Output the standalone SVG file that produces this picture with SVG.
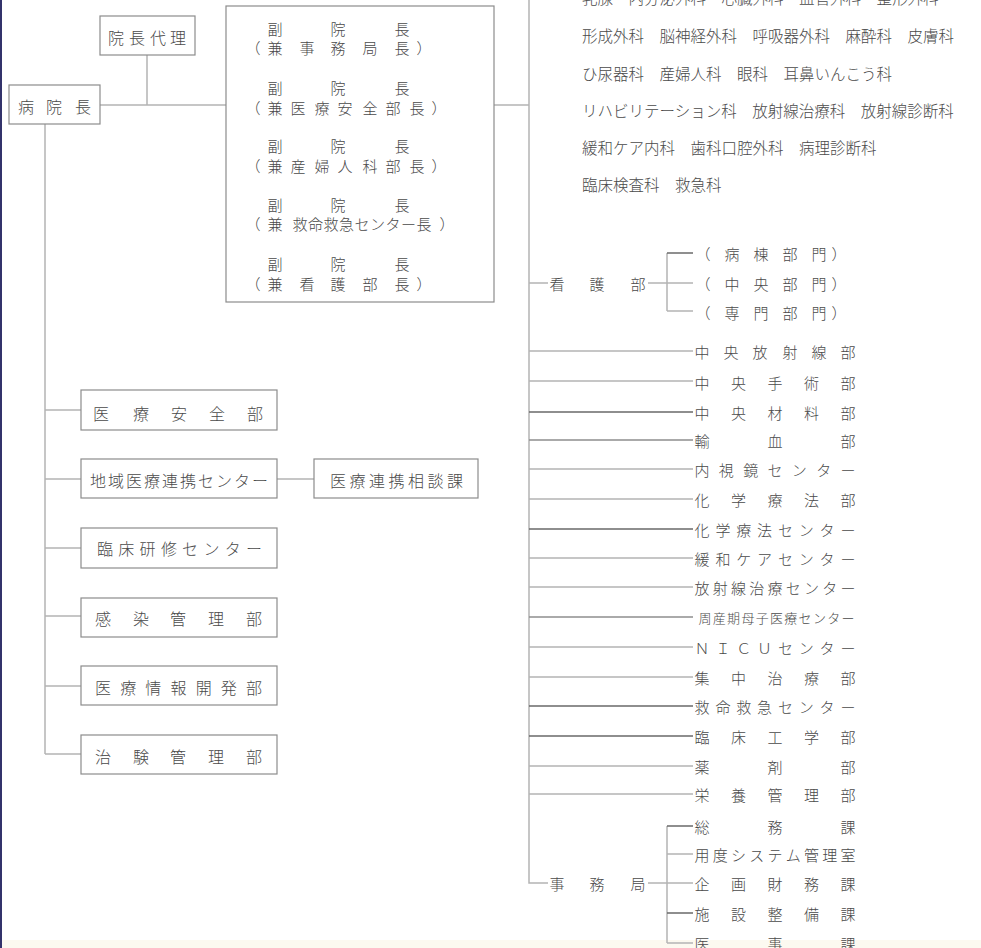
<svg xmlns="http://www.w3.org/2000/svg" width="981" height="948" viewBox="0 0 981 948">
<style>
text{font-family:"Noto Sans CJK JP","Noto Sans",sans-serif;fill:#4a4a4a;dominant-baseline:central;font-weight:300}
.c{text-anchor:middle}
.b{font-size:16px}
.r{font-size:15px}
.d{font-size:15.5px}
.box{fill:#fff;stroke:#8c8c8c;stroke-width:1.2}
.ln{fill:none;stroke:#b4b4b4;stroke-width:1.5}
.dk{stroke:#6a6a6a}
.md{stroke:#8e8e8e}
</style>
<rect x="0" y="0" width="981" height="948" fill="#fff"/>
<rect x="0" y="940" width="981" height="8" fill="#fcf9f0"/>
<rect x="0" y="0" width="2" height="948" fill="#33336b"/>

<g id="connectors">
<path class="ln" d="M100 105H226M147 55V105M45 124V754M45 410H81M45 479H81M45 548H81M45 616H81M45 686H81M45 754H81M277 479H314"/>
<path class="ln" d="M494 105H529M529 0V883H548"/>
<path class="ln" d="M529 283H548M648 283H693M667 253V311M667 311H693"/>
<path class="ln dk" d="M667 253H693"/>
<path class="ln" d="M529 351H693M529 381H693M529 469H693M529 499H693M529 558H693M529 587H693M529 647H693M529 677H693M529 766H693M529 794H693"/>
<path class="ln dk" d="M529 412H693M529 529H693M529 706H693M529 736H693"/>
<path class="ln md" d="M529 440H693M529 617H693"/>
<path class="ln" d="M648 883H693M667 826V943M667 854H693M667 943H693"/>
<path class="ln dk" d="M667 826H693M667 913H693"/>
</g>

<g id="n-byoinchou">
<rect class="box" x="9" y="85" width="91" height="39"/>
<text class="c b" x="26 54 83" y="106">病院長</text>
</g>
<g id="n-dairi">
<rect class="box" x="100" y="16" width="95" height="39"/>
<text class="c b" x="116 137 158 178" y="37">院長代理</text>
</g>
<g id="n-fukuinchou">
<rect class="box" x="226" y="6" width="268" height="296"/>
<text class="c r" x="275 338 402" y="28">副院長</text>
<text class="c r" x="253 275 307 338 370 402 424" y="47">（兼事務局長）</text>
<text class="c r" x="275 338 402" y="87">副院長</text>
<text class="c r" x="253 275 298 322 345 370 393 417 439" y="107">（兼医療安全部長）</text>
<text class="c r" x="275 338 402" y="145">副院長</text>
<text class="c r" x="253 275 298 322 345 370 393 417 439" y="165">（兼産婦人科部長）</text>
<text class="c r" x="275 338 402" y="204">副院長</text>
<text class="c r" x="253 275 300 315.5 331 346.5 362 377.5 393 408.5 424 447" y="223">（兼救命救急センター長）</text>
<text class="c r" x="275 338 402" y="263">副院長</text>
<text class="c r" x="253 275 307 338 370 402 424" y="283">（兼看護部長）</text>
</g>

<g id="n-iryouanzen">
<rect class="box" x="81" y="390" width="196" height="40"/>
<text class="c b" x="101 141 179 217 255" y="413">医療安全部</text>
</g>
<g id="n-chiiki">
<rect class="box" x="81" y="459" width="196" height="39"/>
<text class="c b" x="98 116 134 152 170 188 206 224 242 260" y="480">地域医療連携センター</text>
</g>
<g id="n-soudan">
<rect class="box" x="314" y="459" width="164" height="39"/>
<text class="c b" x="338 357.5 377 396.5 416 435.5 455" y="480">医療連携相談課</text>
</g>
<g id="n-kenshu">
<rect class="box" x="81" y="528" width="196" height="40"/>
<text class="c b" x="105 126.3 147.6 168.9 190.1 211.4 232.7 254" y="548">臨床研修センター</text>
</g>
<g id="n-kansen">
<rect class="box" x="81" y="598" width="196" height="39"/>
<text class="c b" x="103 141 178 216 254" y="618">感染管理部</text>
</g>
<g id="n-jouhou">
<rect class="box" x="81" y="666" width="196" height="39"/>
<text class="c b" x="103 128.2 153.3 178.5 203.7 228.8 254" y="687">医療情報開発部</text>
</g>
<g id="n-chiken">
<rect class="box" x="81" y="735" width="196" height="39"/>
<text class="c b" x="103 141 178 216 254" y="756">治験管理部</text>
</g>

<g id="n-shinryouka">
<text class="d" x="582" y="-3">乳腺・内分泌外科　心臓外科　血管外科　整形外科</text>
<text class="d" x="582" y="35">形成外科　脳神経外科　呼吸器外科　麻酔科　皮膚科</text>
<text class="d" x="582" y="73">ひ尿器科　産婦人科　眼科　耳鼻いんこう科</text>
<text class="d" x="582" y="110">リハビリテーション科　放射線治療科　放射線診断科</text>
<text class="d" x="582" y="147">緩和ケア内科　歯科口腔外科　病理診断科</text>
<text class="d" x="582" y="184">臨床検査科　救急科</text>
</g>

<g id="n-kango">
<text class="c r" x="557 597 638" y="283">看護部</text>
</g>
<g id="n-kango-sub">
<text class="c r" x="703 732 761 790 819 839" y="253">（病棟部門）</text>
<text class="c r" x="703 732 761 790 819 839" y="283">（中央部門）</text>
<text class="c r" x="703 732 761 790 819 839" y="312">（専門部門）</text>
</g>

<g id="n-depts">
<text class="c r" x="702 731 760 790 819 848" y="351">中央放射線部</text>
<text class="c r" x="702 738.5 775 811.5 848" y="382">中央手術部</text>
<text class="c r" x="702 738.5 775 811.5 848" y="412">中央材料部</text>
<text class="c r" x="702 775 848" y="440">輸血部</text>
<text class="c r" x="702 726.3 750.7 775 799.3 823.7 848" y="469">内視鏡センター</text>
<text class="c r" x="702 738.5 775 811.5 848" y="499">化学療法部</text>
<text class="c r" x="702 722.9 743.7 764.6 785.4 806.3 827.1 848" y="529">化学療法センター</text>
<text class="c r" x="702 722.9 743.7 764.6 785.4 806.3 827.1 848" y="558">緩和ケアセンター</text>
<text class="c r" x="702 720.25 738.5 756.75 775 793.25 811.5 829.75 848" y="587">放射線治療センター</text>
<text class="c" style="font-size:13px" x="705 719.3 733.6 747.9 762.2 776.5 790.8 805.1 819.4 833.7 848" y="617">周産期母子医療センター</text>
<text class="c r" x="702 722.9 743.7 764.6 785.4 806.3 827.1 848" y="647">ＮＩＣＵセンター</text>
<text class="c r" x="702 738.5 775 811.5 848" y="677">集中治療部</text>
<text class="c r" x="702 722.9 743.7 764.6 785.4 806.3 827.1 848" y="706">救命救急センター</text>
<text class="c r" x="702 738.5 775 811.5 848" y="736">臨床工学部</text>
<text class="c r" x="702 775 848" y="766">薬剤部</text>
<text class="c r" x="702 738.5 775 811.5 848" y="794">栄養管理部</text>
</g>

<g id="n-jimukyoku">
<text class="c r" x="557 597 638" y="883">事務局</text>
</g>
<g id="n-jimu-sub">
<text class="c r" x="702 775 848" y="826">総務課</text>
<text class="c r" x="702 720.25 738.5 756.75 775 793.25 811.5 829.75 848" y="854">用度システム管理室</text>
<text class="c r" x="702 738.5 775 811.5 848" y="883">企画財務課</text>
<text class="c r" x="702 738.5 775 811.5 848" y="913">施設整備課</text>
<text class="c r" x="702 775 848" y="943">医事課</text>
</g>
</svg>
